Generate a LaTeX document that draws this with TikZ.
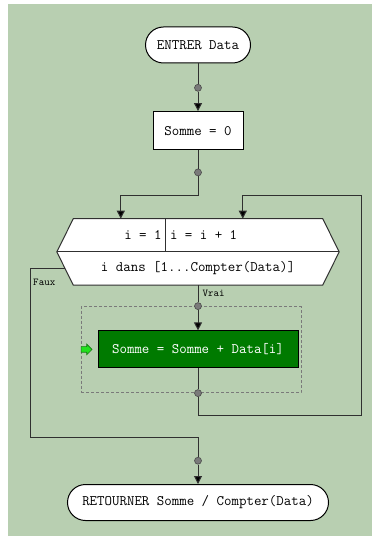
\documentclass[tikz,border=0pt]{standalone}
\usepackage{fontspec}
\definecolor{bggreen}{HTML}{B8CFB1}
\definecolor{linegray}{HTML}{303030}
\definecolor{dotgray}{HTML}{7A7A7A}
\definecolor{boxgreen}{HTML}{007A00}
\definecolor{brkgreen}{HTML}{22E01E}
\usetikzlibrary{shapes.arrows, arrows.meta, positioning, calc}

\begin{document}
\begin{tikzpicture}[
  x=1bp, y=1bp,
  font=\fontsize{14.5bp}{16bp}\ttfamily,
  term/.style={rectangle, rounded corners=18bp, draw=black, fill=white, minimum width=#1, minimum height=36bp, inner sep=0pt, line width=1bp},
  proc/.style={rectangle, draw=black, fill=white, minimum width=90bp, minimum height=38bp, inner sep=0pt, line width=1bp},
  joint/.style={circle, draw=dotgray!60!black, fill=dotgray, minimum size=7bp, inner sep=0pt, line width=0.6bp},
  grp/.style={rectangle, draw=dotgray, dash pattern=on 3bp off 2bp, line width=1bp, minimum width=220bp, minimum height=86bp, inner sep=0pt},
  arr/.style={-{Triangle[length=8bp,width=8bp,fill=black]}, linegray, line width=1bp},
  wire/.style={linegray, line width=1bp},
  tag/.style={font=\fontsize{10.5bp}{12bp}\ttfamily, inner sep=0pt},
]
  \useasboundingbox (0,0) rectangle (372,-536);
  \fill[bggreen] (8,-4) rectangle (372,-536);

  % Start and init
  \node[term=105bp] (start) at (198,-45) {ENTRER Data};
  \node[joint, below=20.5bp of start] (d1) {};
  \node[proc, below=19.5bp of d1] (init) {Somme = 0};
  \node[joint, below=18.5bp of init] (d2) {};

  % Loop header
  \node[minimum width=249bp, minimum height=66bp, inner sep=0pt, below=42.5bp of d2] (loop) {};
  \coordinate (hl) at ($(loop.west)+(-16.5,0)$);
  \coordinate (hr) at ($(loop.east)+(16.5,0)$);
  \filldraw[wire, fill=white] (loop.north west) -- (loop.north east) -- (hr) -- (loop.south east) -- (loop.south west) -- (hl) -- cycle;
  \draw[wire] (hl) -- (hr);
  \draw[wire] ($(loop.north west)+(92.5,0)$) -- ($(loop.west)+(92.5,0)$);
  \node[anchor=east, inner sep=0pt] (ini) at ($(loop.north west)+(88.5,-16.5)$) {i = 1};
  \node[anchor=west, inner sep=0pt] (inc) at ($(loop.north west)+(96.5,-16.5)$) {i = i + 1};
  \node[inner sep=0pt] (cond) at ($(loop.center)+(0,-16.5)$) {i dans [1...Compter(Data)]};
  \coordinate (inA) at ($(loop.north west)+(47.5,0)$);
  \coordinate (inB) at ($(loop.north west)+(169.5,0)$);

  % Loop body
  \node[grp, below=21bp of loop, xshift=-7bp] (grp) {};
  \node[joint] (d3) at (grp.north -| loop.south) {};
  \node[proc, fill=boxgreen, text=white, minimum width=200bp, minimum height=37bp, below=20.5bp of d3] (body) {Somme = Somme + Data[i]};
  \node[joint] (d4) at (grp.south -| d3) {};
  \node[single arrow, fill=brkgreen, draw=brkgreen!55!black, line width=0.6bp, inner sep=2.5bp, single arrow head extend=2.5bp, minimum height=11bp, left=5bp of body] (brk) {};

  % End
  \node[joint, below=60bp of d4] (d5) {};
  \node[term=261bp, below=19.5bp of d5] (stop) {RETOURNER Somme / Compter(Data)};

  % Connectors
  \draw[wire] (start) -- (d1);
  \draw[arr] (d1) -- (init);
  \draw[wire] (init) -- (d2);
  \draw[arr] (d2.south) -- ++(0,-19.5) -| (inA);
  \draw[wire] (loop.south) -- (d3);
  \draw[arr] (d3) -- (body);
  \draw[wire] (body) -- (d4);
  \coordinate (rt) at ($(inB)+(119,23)$);
  \draw[arr] (d4.south) -- ++(0,-18.5) -| (rt) -| (inB);

  % Exit path
  \coordinate (fx) at ($(hl)!0.5!(loop.south west)$);
  \coordinate (fj) at ($(d5)+(0,23)$);
  \draw[wire] (fx) -- ++(-34.25,0) |- (fj) -- (d5);
  \draw[arr] (d5) -- (stop);

  % Branch labels
  \node[tag, anchor=west] (faux) at ($(fx)+(-32,-13.5)$) {Faux};
  \node[tag, anchor=north west] (vrai) at ($(loop.south)+(4.5,-5)$) {Vrai};
\end{tikzpicture}
\end{document}
